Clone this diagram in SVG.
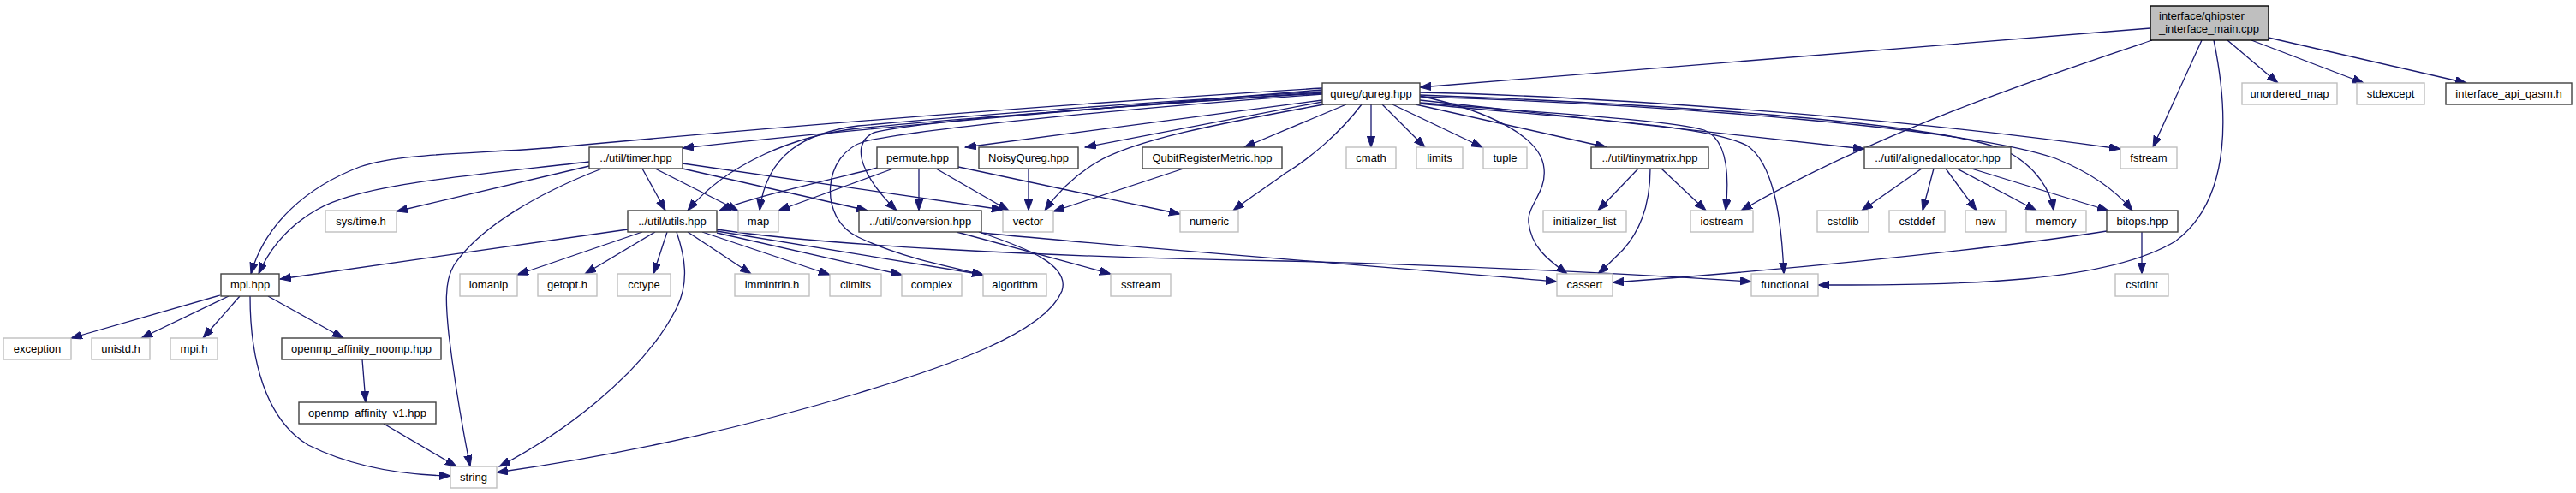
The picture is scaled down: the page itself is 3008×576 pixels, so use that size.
<svg xmlns="http://www.w3.org/2000/svg" width="3008" height="576" viewBox="0 0 3008 576">
<defs>
<marker id="ah" markerUnits="userSpaceOnUse" markerWidth="14" markerHeight="10" refX="13" refY="4.7" orient="auto"><path d="M0,0 L13,4.7 L0,9.4 z" fill="#191970" stroke="#191970" stroke-width="1"/></marker>
</defs>
<style>
.sys rect{fill:#fff;stroke:#bfbfbf;stroke-width:1.4}
.prj rect{fill:#fff;stroke:#404040;stroke-width:1.4}
.main rect{fill:#bfbfbf;stroke:#000;stroke-width:1.4}
text{font-family:"Liberation Sans",Arial,sans-serif;font-size:13px;text-anchor:middle;fill:#000}
.main text{text-anchor:start}
#edges path{fill:none;stroke:#191970;stroke-width:1.3;marker-end:url(#ah)}
</style>
<rect width="3008" height="576" fill="#fff"/>
<g id="edges">
<path d="M2511,33 L1658,102"/>
<path d="M2513,47 C2400,85 2200,150 2033,246"/>
<path d="M2571,47 L2514,172"/>
<path d="M2585,47 C2600,120 2610,230 2540,282 C2460,330 2300,333 2123,333"/>
<path d="M2601,47 L2660,97"/>
<path d="M2629,47 L2760,97"/>
<path d="M2649,44 L2880,97"/>
<path d="M1544,103 C1300,118 1000,140 650,172 C560,180 470,178 420,195 C360,218 310,260 293,320"/>
<path d="M1544,105 C1300,125 1000,150 797,173"/>
<path d="M1544,108 C1300,125 1100,140 1002,150 C930,158 850,190 803,246"/>
<path d="M1544,107 C1300,122 1100,138 1002,147 C940,155 895,180 887,246"/>
<path d="M1544,109 C1300,125 1080,140 1020,155 C990,170 1010,210 1047,246"/>
<path d="M1544,110 C1300,128 1080,150 1010,165 C960,180 955,255 1002,277 C1050,300 1100,310 1148,321"/>
<path d="M1544,117 L1127,172"/>
<path d="M1544,119 L1267,172"/>
<path d="M1546,122 C1450,140 1330,160 1280,190 C1255,205 1235,225 1220,246"/>
<path d="M1572,122 L1453,172"/>
<path d="M1590,122 C1565,155 1530,185 1500,203 C1480,218 1460,230 1440,246"/>
<path d="M1601,122 L1601,172"/>
<path d="M1614,122 L1664,172"/>
<path d="M1626,122 L1731,172"/>
<path d="M1653,122 L1876,172"/>
<path d="M1658,112 C1740,130 1800,160 1803,197 C1806,225 1783,240 1785,260 C1788,290 1810,305 1830,320"/>
<path d="M1658,117 L2177,174"/>
<path d="M1658,108 C1850,112 2200,135 2476,174"/>
<path d="M1658,111 C1900,120 2250,140 2340,175 C2380,195 2395,225 2398,246"/>
<path d="M1658,113 C1950,122 2300,150 2400,185 C2450,205 2475,228 2490,246"/>
<path d="M1658,120 C1800,132 1950,140 1990,152 C2015,162 2020,200 2015,246"/>
<path d="M1658,121 C1850,140 1990,145 2040,170 C2070,190 2080,250 2083,320"/>
<path d="M1913,197 L1866,246"/>
<path d="M1940,197 L1992,246"/>
<path d="M1927,197 C1927,240 1915,270 1895,292 C1885,302 1875,312 1866,320"/>
<path d="M2244,197 L2174,246"/>
<path d="M2258,197 L2245,246"/>
<path d="M2272,197 L2308,246"/>
<path d="M2285,197 L2378,246"/>
<path d="M2302,197 L2462,246"/>
<path d="M2460,270 C2300,295 2050,318 1883,330"/>
<path d="M2501,271 L2501,320"/>
<path d="M688,189 C550,205 420,215 370,245 C335,265 315,290 302,320"/>
<path d="M688,194 L463,247"/>
<path d="M703,197 C630,225 560,265 530,310 C518,330 521,360 524,390 C530,440 540,500 549,545"/>
<path d="M750,197 L777,246"/>
<path d="M765,197 L862,246"/>
<path d="M797,191 L1171,245"/>
<path d="M797,197 L1013,246"/>
<path d="M1025,196 C960,212 880,230 840,246"/>
<path d="M1043,197 L909,246"/>
<path d="M1073,197 L1073,246"/>
<path d="M1093,197 L1178,246"/>
<path d="M1119,195 L1378,250"/>
<path d="M1201,197 L1201,246"/>
<path d="M1382,197 L1230,247"/>
<path d="M733,268 L327,326"/>
<path d="M750,271 L604,321"/>
<path d="M765,271 L683,320"/>
<path d="M779,271 L763,320"/>
<path d="M790,271 C800,300 805,330 790,360 C750,440 650,510 583,545"/>
<path d="M803,271 L877,320"/>
<path d="M820,271 L969,321"/>
<path d="M837,272 L1053,321"/>
<path d="M837,270 L1148,321"/>
<path d="M837,268 C950,285 1200,300 1500,305 C1700,310 1900,320 2045,329"/>
<path d="M1117,271 L1297,320"/>
<path d="M1143,271 C1200,290 1250,310 1240,340 C1220,390 1100,430 1000,460 C850,505 700,535 580,552"/>
<path d="M1146,272 C1350,292 1600,310 1818,329"/>
<path d="M257,345 L83,395"/>
<path d="M267,346 L165,395"/>
<path d="M280,346 L237,395"/>
<path d="M313,346 L401,395"/>
<path d="M292,346 C292,420 310,490 360,520 C410,545 470,555 526,556"/>
<path d="M423,420 L427,470"/>
<path d="M448,495 L533,545"/>
</g>
<g id="n_main" class="main"><rect x="2511" y="7" width="138" height="40"/><text x="2521" y="23">interface/qhipster</text><text x="2521" y="38">_interface_main.cpp</text></g>
<g id="n_qureg" class="prj"><rect x="1544" y="97" width="114" height="25"/><text x="1601" y="114">qureg/qureg.hpp</text></g>
<g id="n_unordered_map" class="sys"><rect x="2618" y="97" width="111" height="25"/><text x="2673.5" y="114">unordered_map</text></g>
<g id="n_stdexcept" class="sys"><rect x="2752" y="97" width="79" height="25"/><text x="2791.5" y="114">stdexcept</text></g>
<g id="n_interface_api_qasm" class="prj"><rect x="2856" y="97" width="147" height="25"/><text x="2929.5" y="114">interface_api_qasm.h</text></g>
<g id="n_timer" class="prj"><rect x="688" y="172" width="109" height="25"/><text x="742.5" y="189">../util/timer.hpp</text></g>
<g id="n_permute" class="prj"><rect x="1024" y="172" width="95" height="25"/><text x="1071.5" y="189">permute.hpp</text></g>
<g id="n_noisyqureg" class="prj"><rect x="1143" y="172" width="116" height="25"/><text x="1201" y="189">NoisyQureg.hpp</text></g>
<g id="n_qrm" class="prj"><rect x="1334" y="172" width="163" height="25"/><text x="1415.5" y="189">QubitRegisterMetric.hpp</text></g>
<g id="n_cmath" class="sys"><rect x="1572" y="172" width="58" height="25"/><text x="1601" y="189">cmath</text></g>
<g id="n_limits" class="sys"><rect x="1654" y="172" width="54" height="25"/><text x="1681" y="189">limits</text></g>
<g id="n_tuple" class="sys"><rect x="1732" y="172" width="51" height="25"/><text x="1757.5" y="189">tuple</text></g>
<g id="n_tinymatrix" class="prj"><rect x="1858" y="172" width="137" height="25"/><text x="1926.5" y="189">../util/tinymatrix.hpp</text></g>
<g id="n_alignedallocator" class="prj"><rect x="2177" y="172" width="171" height="25"/><text x="2262.5" y="189">../util/alignedallocator.hpp</text></g>
<g id="n_fstream" class="sys"><rect x="2476" y="172" width="66" height="25"/><text x="2509" y="189">fstream</text></g>
<g id="n_systime" class="sys"><rect x="380" y="246" width="83" height="25"/><text x="421.5" y="263">sys/time.h</text></g>
<g id="n_utils" class="prj"><rect x="733" y="246" width="104" height="25"/><text x="785" y="263">../util/utils.hpp</text></g>
<g id="n_map" class="sys"><rect x="862" y="246" width="47" height="25"/><text x="885.5" y="263">map</text></g>
<g id="n_conversion" class="prj"><rect x="1003" y="246" width="143" height="25"/><text x="1074.5" y="263">../util/conversion.hpp</text></g>
<g id="n_vector" class="sys"><rect x="1171" y="246" width="59" height="25"/><text x="1200.5" y="263">vector</text></g>
<g id="n_numeric" class="sys"><rect x="1378" y="246" width="68" height="25"/><text x="1412" y="263">numeric</text></g>
<g id="n_initializer_list" class="sys"><rect x="1802" y="246" width="97" height="25"/><text x="1850.5" y="263">initializer_list</text></g>
<g id="n_iostream" class="sys"><rect x="1974" y="246" width="73" height="25"/><text x="2010.5" y="263">iostream</text></g>
<g id="n_cstdlib" class="sys"><rect x="2122" y="246" width="60" height="25"/><text x="2152" y="263">cstdlib</text></g>
<g id="n_cstddef" class="sys"><rect x="2206" y="246" width="65" height="25"/><text x="2238.5" y="263">cstddef</text></g>
<g id="n_new" class="sys"><rect x="2295" y="246" width="47" height="25"/><text x="2318.5" y="263">new</text></g>
<g id="n_memory" class="sys"><rect x="2366" y="246" width="70" height="25"/><text x="2401" y="263">memory</text></g>
<g id="n_bitops" class="prj"><rect x="2460" y="246" width="83" height="25"/><text x="2501.5" y="263">bitops.hpp</text></g>
<g id="n_mpihpp" class="prj"><rect x="258" y="320" width="68" height="26"/><text x="292" y="337">mpi.hpp</text></g>
<g id="n_iomanip" class="sys"><rect x="537" y="320" width="67" height="26"/><text x="570.5" y="337">iomanip</text></g>
<g id="n_getopt" class="sys"><rect x="628" y="320" width="69" height="26"/><text x="662.5" y="337">getopt.h</text></g>
<g id="n_cctype" class="sys"><rect x="721" y="320" width="62" height="26"/><text x="752" y="337">cctype</text></g>
<g id="n_immintrin" class="sys"><rect x="858" y="320" width="87" height="26"/><text x="901.5" y="337">immintrin.h</text></g>
<g id="n_climits" class="sys"><rect x="969" y="320" width="60" height="26"/><text x="999" y="337">climits</text></g>
<g id="n_complex" class="sys"><rect x="1053" y="320" width="70" height="26"/><text x="1088" y="337">complex</text></g>
<g id="n_algorithm" class="sys"><rect x="1148" y="320" width="74" height="26"/><text x="1185" y="337">algorithm</text></g>
<g id="n_sstream" class="sys"><rect x="1297" y="320" width="70" height="26"/><text x="1332" y="337">sstream</text></g>
<g id="n_cassert" class="sys"><rect x="1818" y="320" width="65" height="26"/><text x="1850.5" y="337">cassert</text></g>
<g id="n_functional" class="sys"><rect x="2045" y="320" width="78" height="26"/><text x="2084" y="337">functional</text></g>
<g id="n_cstdint" class="sys"><rect x="2470" y="320" width="62" height="26"/><text x="2501" y="337">cstdint</text></g>
<g id="n_exception" class="sys"><rect x="4" y="395" width="79" height="25"/><text x="43.5" y="412">exception</text></g>
<g id="n_unistd" class="sys"><rect x="107" y="395" width="68" height="25"/><text x="141" y="412">unistd.h</text></g>
<g id="n_mpih" class="sys"><rect x="199" y="395" width="55" height="25"/><text x="226.5" y="412">mpi.h</text></g>
<g id="n_noomp" class="prj"><rect x="329" y="395" width="186" height="25"/><text x="422" y="412">openmp_affinity_noomp.hpp</text></g>
<g id="n_v1" class="prj"><rect x="349" y="470" width="160" height="25"/><text x="429" y="487">openmp_affinity_v1.hpp</text></g>
<g id="n_string" class="sys"><rect x="526" y="545" width="54" height="25"/><text x="553" y="562">string</text></g>
</svg>
